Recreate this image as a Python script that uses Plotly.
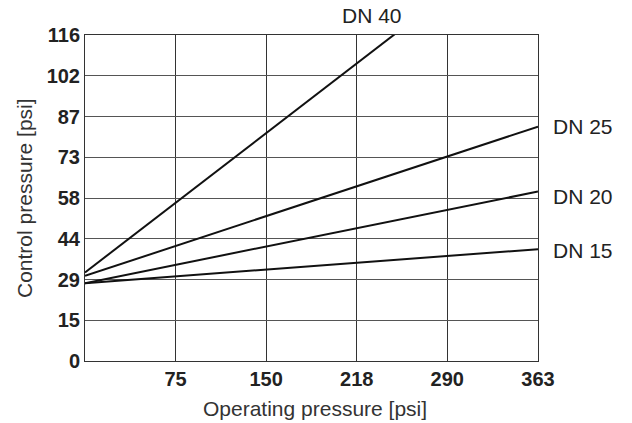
import plotly.graph_objects as go

# Data (psi)
x_ticks = [72.5, 145, 217.5, 290, 362.6]
x_tick_labels = ["75", "150", "218", "290", "363"]
y_ticks = [0, 14.5, 29, 43.5, 58, 72.5, 87, 101.5, 116]
y_tick_labels = ["0", "15", "29", "44", "58", "73", "87", "102", "116"]

series_names = ["DN 15", "DN 20", "DN 25", "DN 40"]
x_points = [0, 362.6]
dn15 = [27.7, 39.8]
dn20 = [27.7, 60.3]
dn25 = [30.3, 83.4]
dn40 = [31.5, 155.5]
series_values = [dn15, dn20, dn25, dn40]

fig = go.Figure()
for name, vals in zip(series_names, series_values):
    fig.add_trace(go.Scatter(x=x_points, y=vals, mode="lines", name=name,
                             line=dict(color="#111111", width=2)))

font = "Liberation Sans, Arial, sans-serif"
# right-side labels (y shift in px)
label_pos = [("DN 25", dn25[1], 0), ("DN 20", dn20[1], -5), ("DN 15", dn15[1], -1)]
for name, yy, ys in label_pos:
    fig.add_annotation(x=x_points[1], y=yy, text=name, showarrow=False, xanchor="left",
                       yanchor="middle", xshift=13, yshift=ys,
                       font=dict(size=21, color="#222", family=font))
fig.add_annotation(x=229.6, y=116, text="DN 40", showarrow=False, yanchor="middle",
                   xanchor="center", yshift=20,
                   font=dict(size=21, color="#222", family=font))

# axis titles
fig.add_annotation(xref="paper", yref="paper", x=0.5, y=0, text="Operating pressure [psi]",
                   showarrow=False, xanchor="center", yanchor="middle", xshift=3, yshift=-47,
                   font=dict(size=21, color="#333", family=font))
fig.add_annotation(xref="paper", yref="paper", x=0, y=0.5, text="Control pressure [psi]",
                   showarrow=False, xanchor="center", yanchor="middle", xshift=-61, yshift=0,
                   textangle=-90, font=dict(size=21, color="#333", family=font))

fig.update_layout(
    width=632, height=423,
    margin=dict(l=85, r=94, t=35, b=62, autoexpand=False),
    paper_bgcolor="white", plot_bgcolor="white",
    showlegend=False,
    font=dict(family=font, color="#222"),
)
tickfont = dict(size=20, family=font, color="#222", weight="bold")
fig.update_xaxes(range=[0, 362.6], tickvals=x_ticks, ticktext=x_tick_labels,
                 tickfont=tickfont, automargin=False,
                 showgrid=True, gridcolor="#333", gridwidth=1,
                 showline=True, linecolor="#333", linewidth=1, mirror=True,
                 zeroline=False, ticks="")
fig.update_yaxes(range=[0, 116], tickvals=y_ticks, ticktext=y_tick_labels,
                 tickfont=tickfont, automargin=False,
                 showgrid=True, gridcolor="#555", gridwidth=1,
                 showline=True, linecolor="#333", linewidth=1, mirror=True,
                 zeroline=False, ticks="")

fig.write_html("out.html", config={"displayModeBar": False},
               post_script="document.body.style.margin='0px';")
